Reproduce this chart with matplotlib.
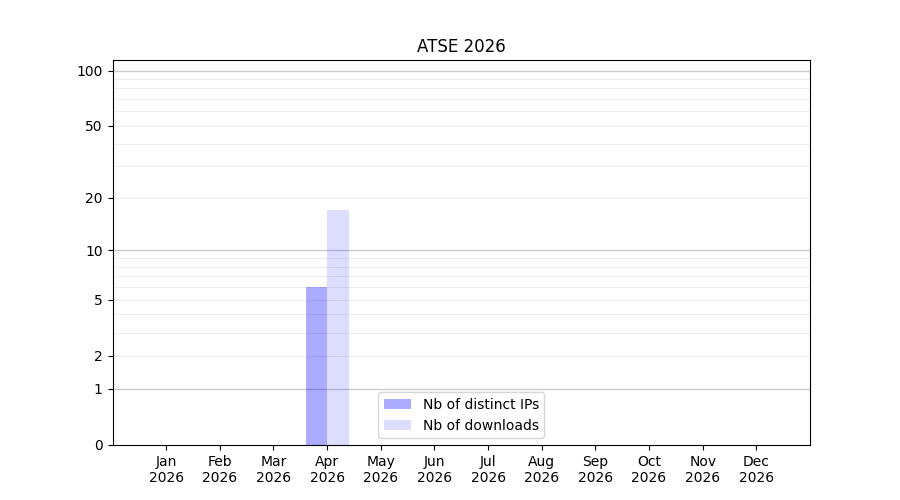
import numpy as np
import matplotlib
matplotlib.use("Agg")
import matplotlib.pyplot as plt

# monthly stats
months = ["Jan", "Feb", "Mar", "Apr", "May", "Jun",
          "Jul", "Aug", "Sep", "Oct", "Nov", "Dec"]
year = "2026"
distinct_ips = [0, 0, 0, 6, 0, 0, 0, 0, 0, 0, 0, 0]
downloads = [0, 0, 0, 17, 0, 0, 0, 0, 0, 0, 0, 0]

x = np.arange(len(months))

fig, ax = plt.subplots(figsize=(9, 5), dpi=100)

# log(1+x) scale so zero values still fit
ax.set_yscale("function", functions=(lambda v: np.log10(np.clip(v, 0, None) + 1),
                                     lambda v: 10 ** v - 1))

ax.bar(x - 0.2, distinct_ips, width=0.4, color="blue", alpha=0.33,
       label="Nb of distinct IPs")
ax.bar(x + 0.2, downloads, width=0.4, color="blue", alpha=0.135,
       label="Nb of downloads")

major = [1, 10, 100]
minor = [2, 3, 4, 5, 6, 7, 8, 9, 20, 30, 40, 50, 60, 70, 80, 90]
for v in major:
    ax.axhline(v, color="#cccccc", linewidth=1, zorder=0)
for v in minor:
    ax.axhline(v, color="#eeeeee", linewidth=0.8, zorder=0)

ax.set_yticks([0, 1, 2, 5, 10, 20, 50, 100])
ax.set_yticklabels(["0", "1", "2", "5", "10", "20", "50", "100"])
ax.set_ylim(0, 114)

ax.set_xticks(x)
ax.set_xticklabels([m + "\n" + year for m in months])
ax.set_xlim(-1, 12)

ax.set_title("ATSE " + year)
ax.legend(loc="lower center")

plt.savefig("out.png")
